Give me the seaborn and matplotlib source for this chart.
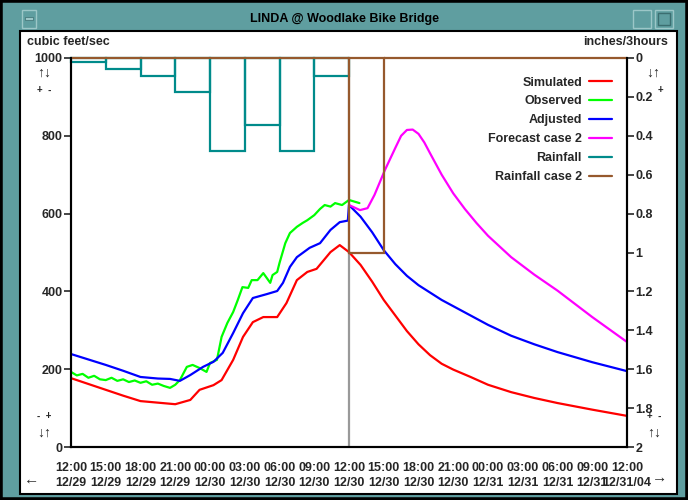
#!/usr/bin/env python3
# -*- coding: utf-8 -*-
"""
Hydrograph for LINDA @ Woodlake Bike Bridge, drawn like the old X11 viewer.
"""

import matplotlib
matplotlib.use("Agg")
import matplotlib.pyplot as plt
from matplotlib.lines import Line2D
from matplotlib.patches import Rectangle
import seaborn as sns

# hours after 12/29 12:00
sim_hours = [0, 1.5, 3, 4.5, 6, 7.5, 9, 10.3, 11.1, 12.3, 13.0, 14.0, 14.85, 15.7, 16.6,
             17.8, 18.6, 19.5, 20.4, 21.2, 22.4, 23.2, 24, 25, 26, 27, 28, 29, 30, 31,
             32, 33, 34.5, 36, 38, 40, 42, 45, 48]
sim_cfs = [177, 162, 147, 132, 118, 114, 110, 121, 147, 159, 172, 224, 283, 321, 334,
           334, 370, 429, 450, 458, 501, 519, 501, 468, 425, 378, 338, 298, 264, 236,
           214, 199, 180, 160, 141, 126, 113, 96, 80]

obs_hours = [0, 0.5, 1, 1.5, 2, 2.5, 3, 3.5, 4, 4.5, 5, 5.5, 6, 6.5, 7, 7.5, 8, 8.55,
             9.0, 9.4, 10.0, 10.5, 11.1, 11.7, 12.0, 12.6, 13.0, 13.5, 14.0, 14.4, 14.8,
             15.3, 15.6, 16.1, 16.6, 17.2, 17.4, 17.8, 18.0, 18.5, 18.9, 19.5, 20.0,
             20.4, 21.0, 21.5, 21.9, 22.4, 22.8, 23.4, 24.0, 24.9]
obs_cfs = [193, 184, 188, 178, 183, 174, 172, 178, 170, 174, 167, 171, 165, 169, 160,
           163, 157, 152, 160, 172, 206, 211, 203, 193, 216, 224, 283, 319, 347, 378,
           411, 409, 429, 429, 447, 422, 442, 450, 473, 524, 550, 566, 576, 583, 596,
           612, 622, 618, 627, 622, 635, 627]

adj_hours = [0, 1.5, 3, 4.5, 6, 7.5, 8.55, 9.4, 10.3, 11.4, 12.3, 13.1, 14.0, 14.85,
             15.7, 16.9, 17.8, 18.3, 18.9, 19.5, 20.6, 21.5, 22.4, 23.2, 23.9, 24, 25,
             26, 27, 28, 29, 30, 31, 32, 33, 34.5, 36, 38, 40, 42, 45, 48]
adj_cfs = [239, 225, 211, 196, 180, 176, 175, 170, 185, 206, 219, 242, 293, 344, 383,
           393, 401, 422, 463, 488, 512, 524, 558, 578, 582, 622, 592, 552, 506, 470,
           440, 416, 397, 378, 362, 338, 314, 286, 264, 244, 218, 195]

fc_hours = [24, 24.95, 25.6, 26.2, 27.1, 28.0, 28.5, 29.0, 29.5, 30.0, 30.5, 31.0, 32,
            33, 34, 35, 36, 38, 40, 42, 45, 48]
fc_cfs = [622, 609, 614, 648, 712, 769, 800, 815, 816, 805, 783, 755, 700, 652, 612,
          576, 543, 488, 443, 402, 334, 270]

# rainfall, inches per 3 hours
rain_start = [0, 3, 6, 9, 12, 15, 18, 21]
rain_in = [0.02, 0.055, 0.09, 0.175, 0.48, 0.345, 0.48, 0.09]
rain2_start = [0, 3, 6, 9, 12, 15, 18, 21, 24, 27, 30, 33, 36, 39, 42, 45]
rain2_in = [0, 0, 0, 0, 0, 0, 0, 0, 1.0, 0, 0, 0, 0, 0, 0, 0]

tick_hours = list(range(0, 49, 3))
tick_times = ["12:00", "15:00", "18:00", "21:00", "00:00", "03:00", "06:00", "09:00",
              "12:00", "15:00", "18:00", "21:00", "00:00", "03:00", "06:00", "09:00",
              "12:00"]
tick_dates = ["12/29", "12/29", "12/29", "12/29", "12/30", "12/30", "12/30", "12/30",
              "12/30", "12/30", "12/30", "12/30", "12/31", "12/31", "12/31", "12/31",
              "12/31/04"]

FRAME = "#5f9ea0"
FONT = "Liberation Sans"

sns.set_style("white")
plt.rcParams["font.family"] = [FONT, "DejaVu Sans"]
plt.rcParams["font.weight"] = "bold"

fig = plt.figure(figsize=(6.88, 5.0), dpi=100)
fig.patch.set_facecolor(FRAME)

W, H = 688.0, 500.0


def fx(px):
    return px / W


def fy(py):
    return 1 - py / H


def deco(x0, y0, w, h, **kw):
    # window decoration, kept behind the axes
    fig.patches.append(Rectangle((fx(x0), fy(y0 + h)), w / W, h / H,
                                 transform=fig.transFigure, zorder=-5, **kw))


deco(0, 0, 688, 500, fill=False, ec="black", lw=4)
deco(20, 31, 657, 463, fc="white", ec="black", lw=1.5)
deco(22, 10, 14, 18, fc=FRAME, ec="#9cc7c8", lw=1)
deco(25, 17, 8, 3, fc="#9cc7c8", ec="#3b6e70", lw=0.5)
deco(633, 10, 18, 18, fc=FRAME, ec="#9cc7c8", lw=1)
deco(655, 10, 18, 18, fc=FRAME, ec="#9cc7c8", lw=1)
deco(658, 13, 12, 12, fc=FRAME, ec="#3b6e70", lw=1)
fig.text(0.5, fy(19), "LINDA @ Woodlake Bike Bridge", ha="center", va="center",
         fontsize=9, color="black")

ax = fig.add_axes([fx(71), fy(447), fx(556), 389 / H])
ax.set_facecolor("white")
ax2 = ax.twinx()

ax.axvline(24, color="#999999", lw=1.6, zorder=1)

sns.lineplot(x=sim_hours, y=sim_cfs, ax=ax, color="#ff0000", lw=1.6)
sns.lineplot(x=obs_hours, y=obs_cfs, ax=ax, color="#00ff00", lw=1.6)
sns.lineplot(x=adj_hours, y=adj_cfs, ax=ax, color="#0000ff", lw=1.6)
sns.lineplot(x=fc_hours, y=fc_cfs, ax=ax, color="#ff00ff", lw=1.6)

ax2.bar(rain_start, rain_in, width=3, align="edge", fill=False, edgecolor="#008b8b",
        lw=1.6, clip_on=False)
ax2.bar(rain2_start, rain2_in, width=3, align="edge", fill=False, edgecolor="#96592d",
        lw=1.6, clip_on=False)

ax.set_xlim(0, 48)
ax.set_ylim(0, 1000)
ax2.set_ylim(2, 0)

ax.set_yticks(range(0, 1001, 200))
ax2.set_yticks([i / 5 for i in range(11)])
ax2.set_yticklabels([f"{i / 5:g}" for i in range(11)])
ax.set_xticks(tick_hours)
ax.set_xticklabels([f"{t}\n{d}" for t, d in zip(tick_times, tick_dates)])
for lab in ax.get_xticklabels():
    lab.set_linespacing(1.4)

for a in (ax, ax2):
    a.set_xlabel("")
    a.set_ylabel("")
    a.spines["top"].set_visible(False)
    for s in ("left", "right", "bottom"):
        a.spines[s].set_color("black")
        a.spines[s].set_linewidth(1.5)
ax.tick_params(axis="y", direction="out", length=5, width=1.2, pad=1, labelsize=9)
ax2.tick_params(axis="y", direction="out", length=5, width=1.2, pad=1, labelsize=9)
ax.tick_params(axis="x", direction="inout", length=9, width=1.2, pad=6, labelsize=9)

handles = [
    Line2D([], [], color="#ff0000", lw=1.6),
    Line2D([], [], color="#00ff00", lw=1.6),
    Line2D([], [], color="#0000ff", lw=1.6),
    Line2D([], [], color="#ff00ff", lw=1.6),
    Line2D([], [], color="#008b8b", lw=1.6),
    Line2D([], [], color="#96592d", lw=1.6),
]
names = ["Simulated", "Observed", "Adjusted", "Forecast case 2", "Rainfall",
         "Rainfall case 2"]
ax2.legend(handles, names, loc="upper right", bbox_to_anchor=(0.982, 0.965),
           frameon=False, markerfirst=False, fontsize=9, handlelength=1.8,
           handletextpad=0.6, labelspacing=0.55, borderaxespad=0)

# axis captions and scroll arrows
fig.text(fx(27), fy(42), "cubic feet/sec", ha="left", va="center", fontsize=9)
fig.text(fx(668), fy(42), "inches/3hours", ha="right", va="center", fontsize=9)
fig.text(fx(44), fy(73), "↑↓", ha="center", va="center", fontsize=10)
fig.text(fx(44), fy(90), "+  -", ha="center", va="center", fontsize=7)
fig.text(fx(44), fy(416), "-  +", ha="center", va="center", fontsize=7)
fig.text(fx(44), fy(433), "↓↑", ha="center", va="center", fontsize=10)
fig.text(fx(653), fy(73), "↓↑", ha="center", va="center", fontsize=10)
fig.text(fx(660), fy(90), "+", ha="center", va="center", fontsize=7)
fig.text(fx(654), fy(416), "+  -", ha="center", va="center", fontsize=7)
fig.text(fx(654), fy(433), "↑↓", ha="center", va="center", fontsize=10)
fig.text(fx(32), fy(480), "←", ha="center", va="center", fontsize=11)
fig.text(fx(660), fy(478), "→", ha="center", va="center", fontsize=11)

plt.savefig("out.png", dpi=100, facecolor=fig.get_facecolor())
